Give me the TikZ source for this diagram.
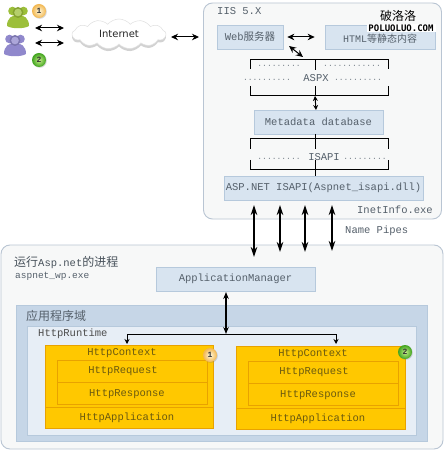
\documentclass[tikz,border=0pt]{standalone}
\usepackage{fontspec}
\setmainfont{Liberation Mono}
\newfontfamily\cjkf{Noto Sans CJK SC}
\newfontfamily\netf{DejaVu Sans}
\newfontfamily\wmf{DejaVu Sans Mono}
\usetikzlibrary{arrows.meta,shapes.symbols,shadows,calc}
\definecolor{panelfill}{HTML}{F7F8F8}
\definecolor{panelline}{HTML}{B9C5D3}
\definecolor{bluefill}{HTML}{D8E4F0}
\definecolor{blueline}{HTML}{B6C9DC}
\definecolor{domainfill}{HTML}{C6D6E7}
\definecolor{innerfill}{HTML}{E7EEF6}
\definecolor{txtgrey}{HTML}{55606B}
\definecolor{yellowfill}{HTML}{FFC800}
\definecolor{yellowline}{HTML}{E8A200}
\definecolor{yellowtxt}{HTML}{6B5A10}
\definecolor{usergreen}{HTML}{9CBF3A}
\definecolor{userviolet}{HTML}{9088CC}
\definecolor{ballA}{HTML}{F2B64E}
\definecolor{ballAin}{HTML}{FFF8DC}
\definecolor{ballB}{HTML}{3FA31E}
\definecolor{ballBin}{HTML}{C9F08A}
\tikzset{
  panel/.style={draw=panelline,fill=panelfill,line width=.9pt,rounded corners=9pt},
  bluebox/.style={draw=blueline,fill=bluefill,line width=.7pt,text=txtgrey,font=\fontsize{10.5}{12}\selectfont,inner sep=0pt},
  lbl/.style={text=txtgrey,font=\fontsize{10.5}{12}\selectfont,inner sep=0pt},
  ylbl/.style={text=yellowtxt,font=\fontsize{10.5}{12}\selectfont,inner sep=0pt},
  dots/.style={text=txtgrey!80,font=\fontsize{8}{10}\selectfont,inner sep=0pt},
  ybox/.style={draw=yellowline,fill=yellowfill,line width=.7pt},
  yline/.style={draw=yellowline,line width=.6pt},
  bline/.style={draw=black,line width=1pt},
  dbl/.style={black,line width=1pt,{Stealth[length=7pt,width=6.5pt]}-{Stealth[length=7pt,width=6.5pt]}},
  sgl/.style={black,line width=1pt,-{Stealth[length=5pt,width=5pt]}},
  badge/.style={circle,minimum size=14pt,inner sep=0pt,font=\bfseries\fontsize{8}{9}\selectfont,text=black!80,drop shadow={shadow xshift=.8pt,shadow yshift=-.8pt,opacity=.3}},
  badgeA/.style={badge,inner color=ballAin,outer color=ballA},
  badgeB/.style={badge,inner color=ballBin,outer color=ballB},
}
\newcommand{\userfig}[3]{%
  \fill[#3] (#1-5.5,#2+2) circle (4.3);
  \fill[#3] (#1+5.5,#2+2) circle (4.3);
  \fill[#3] (#1-11,#2+17) .. controls (#1-11,#2+9) and (#1-6,#2+6) .. (#1,#2+6)
     .. controls (#1+6,#2+6) and (#1+11,#2+9) .. (#1+11,#2+17)
     .. controls (#1+6,#2+20) and (#1-6,#2+20) .. (#1-11,#2+17) -- cycle;
  \fill[#3!85!black] (#1,#2+3.5) circle (5.5);
  \fill[#3!75!white] (#1,#2+3.5) circle (3.8);
}
\begin{document}
\begin{tikzpicture}[x=1pt,y=-1pt]
\useasboundingbox[fill=white] (0,0) rectangle (446,454);

% users
\userfig{18}{9}{usergreen}
\userfig{15}{37}{userviolet}
\node[badgeA] (b1) at (39,11) {1};
\node[badgeB] (b2) at (39,60) {2};
\coordinate (ua1) at (35,28); \coordinate (ua2) at (64,28);
\coordinate (ub1) at (35,43); \coordinate (ub2) at (64,43);
\draw[dbl] (ua1) -- (ua2);
\draw[dbl] (ub1) -- (ub2);

% cloud
\node[cloud,cloud puffs=13,cloud puff arc=100,aspect=3,draw=black!12,fill=white,line width=.5pt,
  minimum width=94pt,minimum height=30pt,inner sep=0pt,
  drop shadow={shadow xshift=0pt,shadow yshift=-2.5pt,opacity=.35},
  font=\netf\fontsize{10}{12}\selectfont,text=black!85] (net) at (119,34) {Internet};

% IIS panel
\node[panel,minimum width=238pt,minimum height=216pt,inner sep=0pt] (iis) at (322.5,111) {};
\node[lbl,anchor=west] (iist) at (217,11) {IIS 5.X};
\coordinate (neta) at (171,37);
\coordinate (iisa) at (199,37);
\draw[dbl] (neta) -- (iisa);

\node[bluebox,minimum width=66pt,minimum height=24pt] (web) at (250,37) {Web{\cjkf 服务器}};
\node[draw=blueline,fill=bluefill,line width=.7pt,minimum width=110pt,minimum height=24pt,inner sep=0pt] (html) at (380,37) {};
\node[lbl] (htmlt) at (380,39) {\fontsize{10}{11}\selectfont HTML{\cjkf 等静态内容}};
\draw[dbl,shorten <=4pt,shorten >=10pt] (web) -- (html);

% ASPX bracket
\coordinate (at) at (315,60);
\coordinate (ab) at (315,96);
\draw[bline] (250,69) -- (250,60) -- (388,60) -- (388,69);
\draw[bline] (at) -- (315,70);
\draw[bline] (250,86) -- (250,96) -- (388,96) -- (388,86);
\draw[bline] (315,86) -- (ab);
\coordinate (d1) at (289,46); \coordinate (d2) at (303,57);
\draw[dbl] (d1) -- (d2);
\node[dots] (dt1) at (279,66) {.........};
\node[dots] (dt2) at (352,66) {............};
\node[dots] (dm1) at (267,80) {..........};
\node[lbl] (aspx) at (316,78.5) {ASPX};
\node[dots] (dm2) at (358,80) {..........};

% Metadata
\node[bluebox,minimum width=129pt,minimum height=24pt] (meta) at (318.5,122) {Metadata database};
\coordinate (mt) at (316,110);
\draw[line width=1pt,{Stealth[length=5pt,width=5pt]}-{Stealth[length=5pt,width=5pt]}] (ab) -- (mt);

% ISAPI bracket
\draw[bline] (250,149) -- (250,139) -- (388,139) -- (388,149);
\draw[bline] (315,134) -- (315,149);
\draw[bline] (250,160) -- (250,170) -- (388,170) -- (388,160);
\node[bluebox,minimum width=199pt,minimum height=24pt] (isapi) at (323.5,188) {ASP.NET ISAPI(Aspnet\_isapi.dll)};
\draw[bline] (315,160) -- (315,176);
\node[dots] (di1) at (279,159) {.........};
\node[lbl] (isa) at (324,157.5) {ISAPI};
\node[dots] (di2) at (365,159) {.........};

\node[lbl,anchor=east] (inet) at (433,209.5) {InetInfo.exe};
\node[lbl,anchor=west] (pipes) at (345,231) {Name Pipes};

% lower panel
\node[panel,minimum width=442pt,minimum height=204pt,inner sep=0pt] (proc) at (222,347) {};
\node[anchor=west,inner sep=0pt,text=txtgrey!85!black,font=\fontsize{10.5}{12}\selectfont] (pt) at (14,263) {{\cjkf\fontsize{12}{12}\selectfont 运行}Asp.net{\cjkf\fontsize{12}{12}\selectfont 的进程}};
\node[lbl,anchor=west,font=\fontsize{9.5}{11}\selectfont] (wp) at (15,276) {aspnet\_wp.exe};
\node[bluebox,minimum width=159pt,minimum height=24pt] (am) at (235.5,279) {ApplicationManager};

% pipes
\foreach \n/\xx/\yy in {1/254/257,2/280/252,3/305/252,4/332/251}{
  \coordinate (pa\n) at (\xx,205);
  \coordinate (pb\n) at (\xx,\yy);
  \draw[line width=1.2pt,{Stealth[length=10pt,width=6.5pt]}-{Stealth[length=10pt,width=6.5pt]}] (pa\n) -- (pb\n);
}

% application domain
\node[draw=blueline,fill=domainfill,line width=.7pt,minimum width=411pt,minimum height=136pt,inner sep=0pt] (dom) at (221.5,373) {};
\node[anchor=west,inner sep=0pt,text=txtgrey,font=\cjkf\fontsize{12}{12}\selectfont] (domt) at (26,316) {应用程序域};
\node[draw=blueline,fill=innerfill,line width=.7pt,minimum width=389pt,minimum height=109pt,inner sep=0pt] (rt) at (221.5,380.5) {};
\node[lbl,anchor=west,text=black!70] (rtt) at (38,333.5) {HttpRuntime};

% yellow 1
\node[ybox,minimum width=168pt,minimum height=83pt,inner sep=0pt] (y1) at (129,386.5) {};
\node[yline,draw,minimum width=150pt,minimum height=44pt,inner sep=0pt] (y1i) at (132,382) {};
\draw[yline] (57,382.5) -- (207,382.5);
\draw[yline] (45,407) -- (213,407);
\node[ylbl] (c1) at (122,353) {HttpContext};
\node[ylbl] (q1) at (123,371) {HttpRequest};
\node[ylbl] (s1) at (127,394) {HttpResponse};
\node[ylbl] (a1) at (127,417.5) {HttpApplication};

% yellow 2
\node[ybox,minimum width=169pt,minimum height=83pt,inner sep=0pt] (y2) at (320.5,387.5) {};
\node[yline,draw,minimum width=150pt,minimum height=44pt,inner sep=0pt] (y2i) at (323,383) {};
\draw[yline] (248,383.5) -- (398,383.5);
\draw[yline] (236,408) -- (405,408);
\node[ylbl] (c2) at (313,354) {HttpContext};
\node[ylbl] (q2) at (314,372) {HttpRequest};
\node[ylbl] (s2) at (318,395) {HttpResponse};
\node[ylbl] (a2) at (318,418.5) {HttpApplication};

\node[badgeA] (b3) at (210,355) {1};
\node[badgeB] (b4) at (405,352) {2};

% distribution
\coordinate (rj) at (226,334);
\coordinate (yt1) at (127,344);
\coordinate (yt2) at (336,344);
\draw[black,line width=1pt] (127,334) -- (336,334);
\draw[sgl] (127,334) -- (yt1);
\draw[sgl] (336,334) -- (yt2);
\coordinate (amb) at (226,292);
\draw[line width=1.1pt,{Stealth[length=7pt,width=5.5pt]}-{Stealth[length=7pt,width=5.5pt]}] (amb) -- (rj);

% watermark
\node[inner sep=0pt,font=\cjkf\fontsize{12}{12}\selectfont,text=black] (wm1) at (398,16) {破洛洛};
\node[fill=white,minimum width=69pt,minimum height=8pt,inner sep=0pt,font=\wmf\bfseries\fontsize{9}{8}\selectfont,text=black] (wm2) at (401,28.5) {POLUOLUO.COM};
\end{tikzpicture}
\end{document}
